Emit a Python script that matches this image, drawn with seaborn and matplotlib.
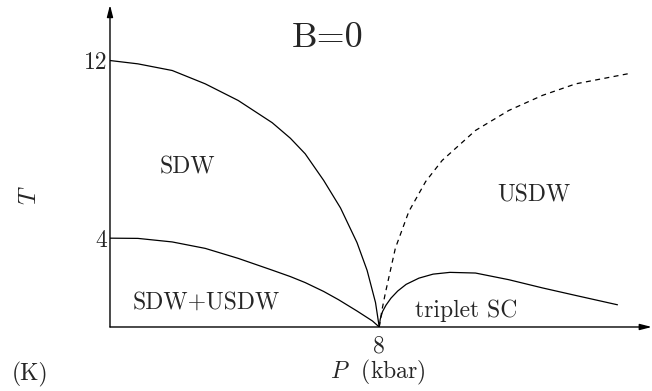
import matplotlib
matplotlib.use("Agg")
import matplotlib.pyplot as plt
import seaborn as sns

# phase boundaries (P in kbar, T in K)
sdw_p = [0.0, 0.83, 1.85, 2.83, 3.81, 4.82, 5.36, 5.8, 6.35, 6.85, 7.34, 7.64, 7.89, 8.0]
sdw_t = [12.0, 11.85, 11.55, 10.95, 10.2, 9.2, 8.5, 7.8, 6.6, 5.36, 3.8, 2.55, 1.1, 0.0]

usdw_p = [0.0, 0.83, 1.85, 2.83, 3.81, 4.82, 5.36, 5.8, 6.35, 6.79, 7.34, 7.8, 8.0]
usdw_t = [4.0, 3.99, 3.83, 3.54, 3.09, 2.56, 2.27, 2.0, 1.6, 1.23, 0.72, 0.27, 0.0]

dash_p = [8.0, 8.08, 8.18, 8.48, 8.88, 9.38, 9.87, 10.86, 11.85, 12.85, 13.84, 15.48]
dash_t = [0.0, 0.75, 1.51, 3.55, 5.2, 6.55, 7.5, 8.85, 9.75, 10.43, 10.95, 11.43]

sc_p = [8.0, 8.03, 8.1, 8.2, 8.35, 8.55, 8.8, 9.18, 9.6, 10.1, 10.86, 11.85, 12.85, 13.84, 15.08]
sc_t = [0.0, 0.35, 0.7, 0.98, 1.3, 1.62, 1.92, 2.2, 2.38, 2.46, 2.43, 2.13, 1.76, 1.42, 1.0]

yticks = [4, 12]
xticks = [8]

sns.set_style("white")
plt.rcParams["font.family"] = "serif"
plt.rcParams["font.serif"] = ["cmr10", "DejaVu Serif"]
plt.rcParams["mathtext.fontset"] = "cm"
plt.rcParams["axes.unicode_minus"] = False

fig = plt.figure(figsize=(6.52, 3.91), dpi=100)
ax = fig.add_axes([0.1687, 0.1637, 0.831, 0.8235])

kw = dict(color="black", linewidth=0.9, sort=False, estimator=None, ax=ax)
sns.lineplot(x=sdw_p, y=sdw_t, **kw)
sns.lineplot(x=usdw_p, y=usdw_t, **kw)
sns.lineplot(x=sc_p, y=sc_t, **kw)
line = sns.lineplot(x=dash_p, y=dash_t, **kw).lines[-1]
line.set_dashes((4, 3.5))
for ln in ax.lines:
    ln.set_solid_joinstyle("round")

ax.set_xlim(0, 16.1)
ax.set_ylim(0, 14.5)
for s in ax.spines.values():
    s.set_visible(False)

# axes drawn as arrows
arrow = dict(arrowstyle="-|>,head_length=0.7,head_width=0.18", color="black",
             lw=1.0, shrinkA=0, shrinkB=0)
ax.annotate("", xy=(1.0, 0), xytext=(0, 0), xycoords="axes fraction",
            arrowprops=arrow, annotation_clip=False)
ax.annotate("", xy=(0, 1.0), xytext=(0, 0), xycoords="axes fraction",
            arrowprops=arrow, annotation_clip=False)

ax.set_xticks(xticks)
ax.set_yticks(yticks)
ax.set_xticklabels([str(v) for v in xticks])
ax.set_yticklabels([str(v) for v in yticks])
ax.tick_params(length=0, labelsize=17)
ax.tick_params(axis="x", pad=6)
ax.tick_params(axis="y", pad=2)
ax.set_xlabel("")
ax.set_ylabel("")

ax.text(6.46, 13.0, "B=0", fontsize=26, ha="center", va="center")
ax.text(2.29, 7.19, "SDW", fontsize=17, ha="center", va="center")
ax.text(2.86, 1.12, "SDW+USDW", fontsize=17, ha="center", va="center")
ax.text(12.59, 5.91, "USDW", fontsize=17, ha="center", va="center")
ax.text(10.57, 0.72, "triplet SC", fontsize=17, ha="center", va="center")

fig.text(30 / 652, 1 - 195 / 391, r"$T$", fontsize=18, rotation=90,
         ha="center", va="center")
fig.text(30 / 652, 1 - 374 / 391, "(K)", fontsize=17, ha="center", va="center")
fig.text(378 / 652, 1 - 372 / 391, r"$P$  (kbar)", fontsize=17,
         ha="center", va="center")

fig.savefig("out.png", dpi=100)
